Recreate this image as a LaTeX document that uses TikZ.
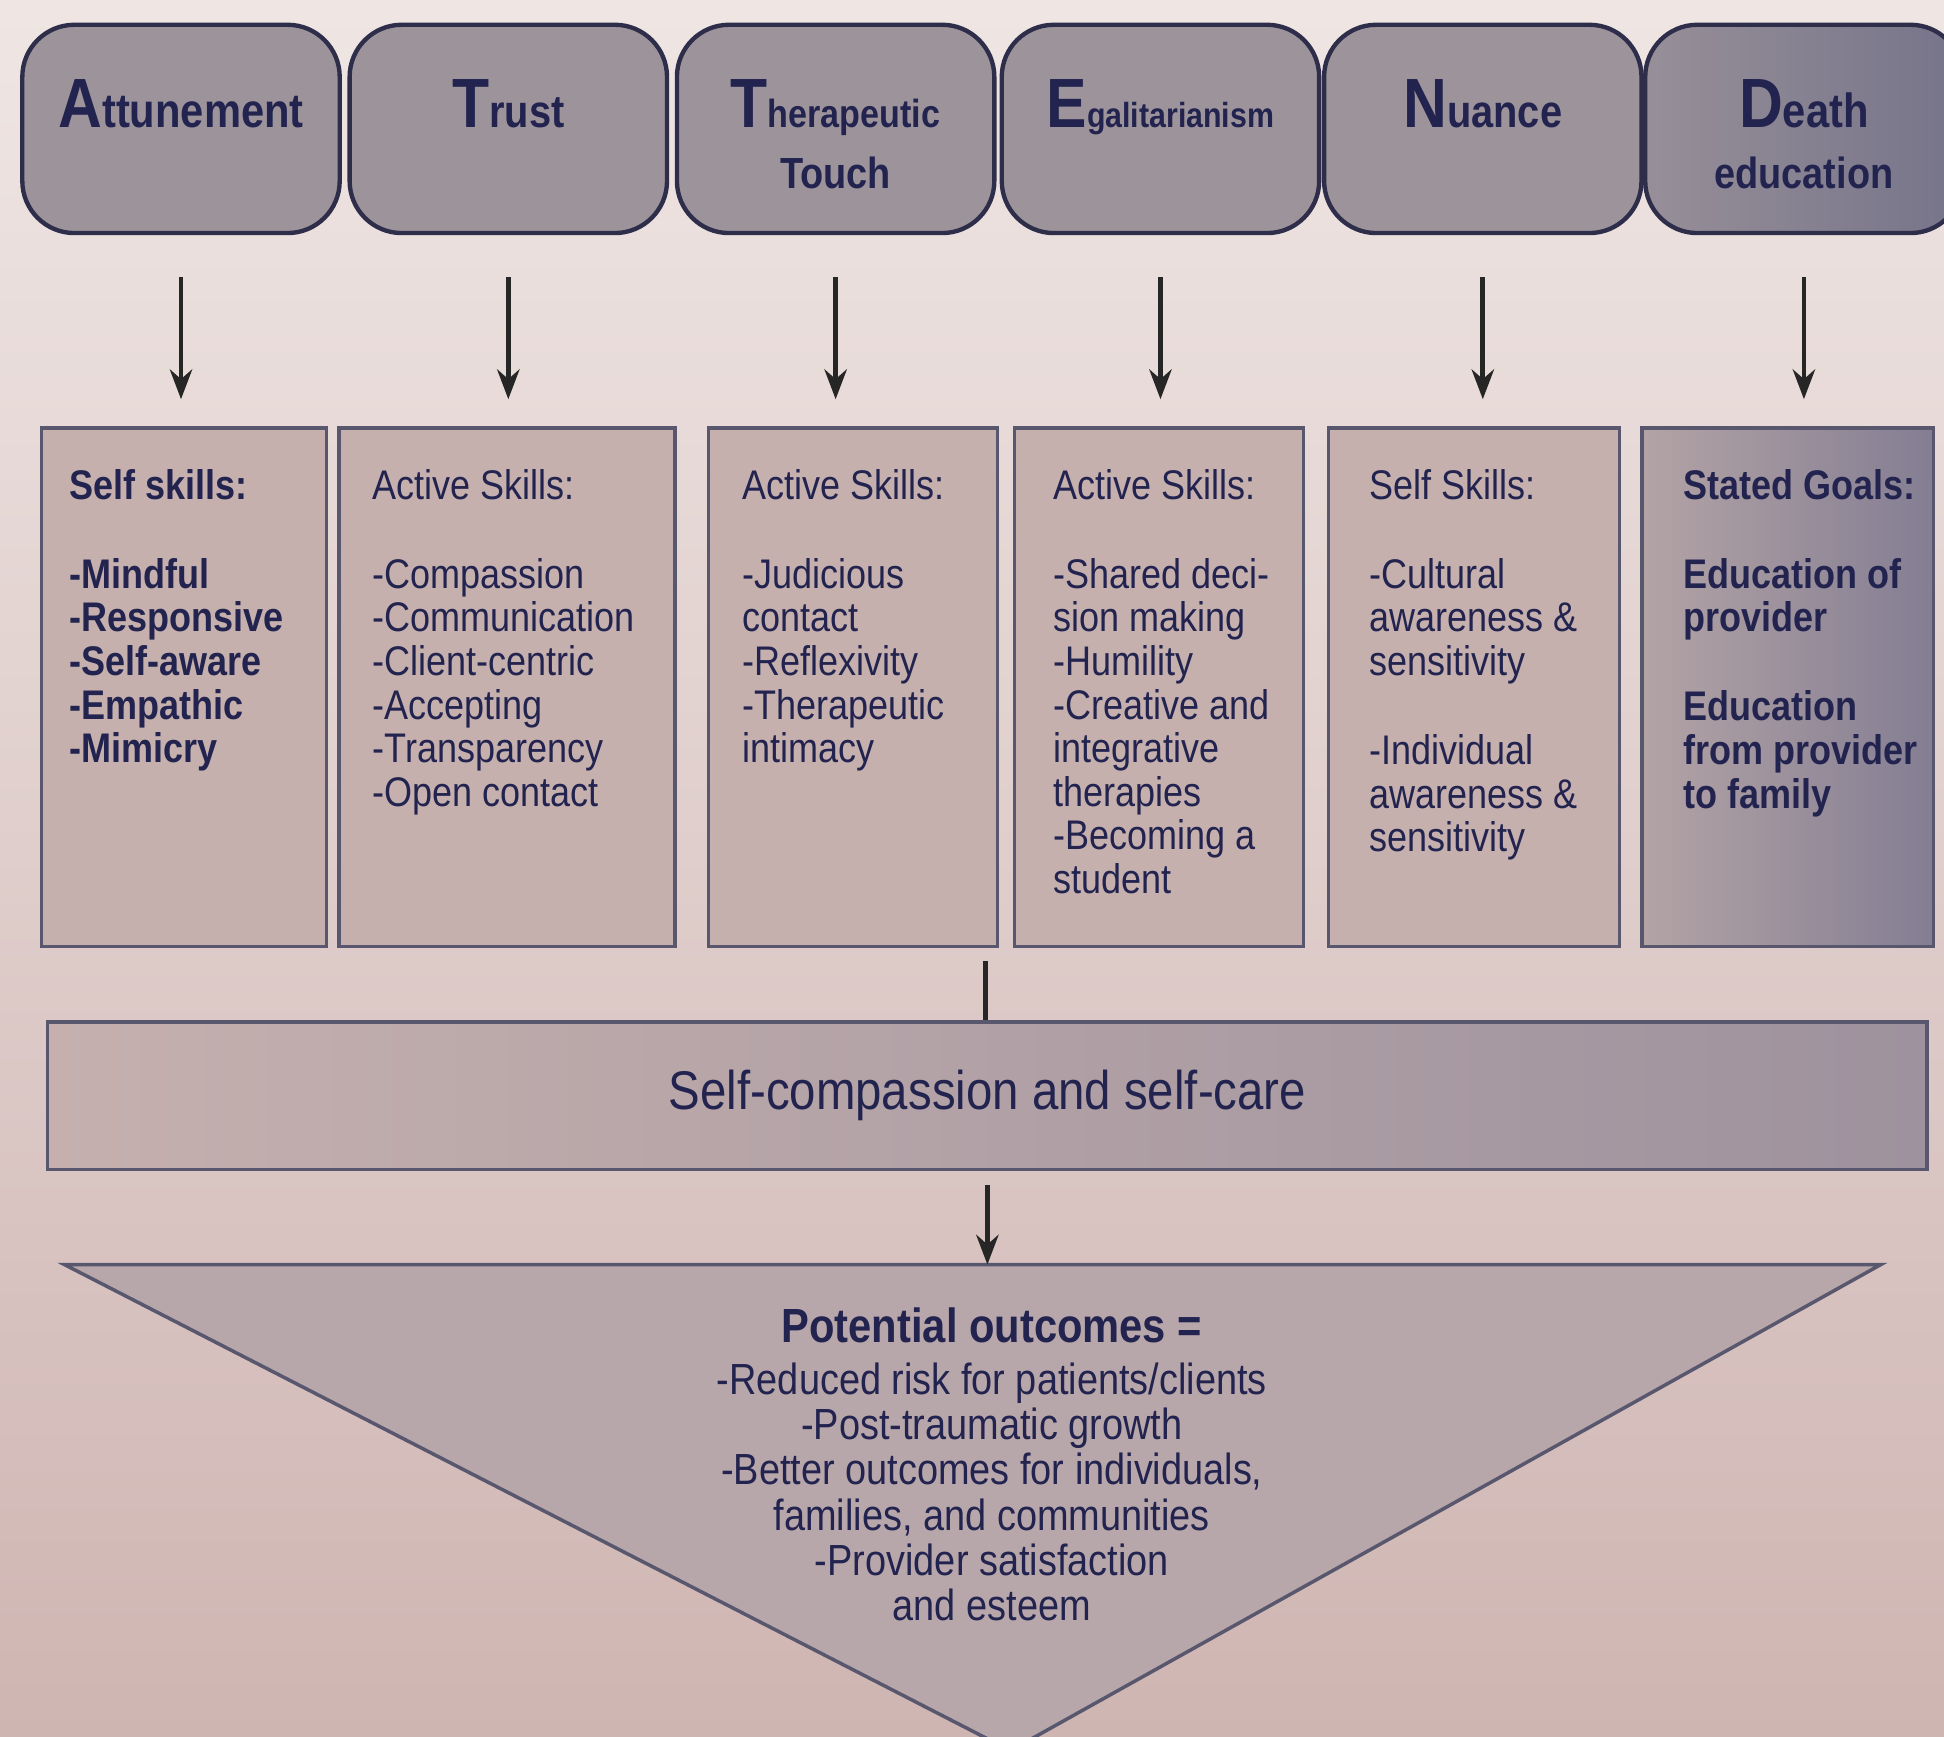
\documentclass[tikz,border=0pt]{standalone}
\usepackage{fontspec}
\setmainfont[FakeStretch=0.87]{Liberation Sans}
\usetikzlibrary{arrows.meta,positioning}

\definecolor{bgtop}{HTML}{EFE6E4}
\definecolor{bgbot}{HTML}{CFB5B2}
\definecolor{headfill}{HTML}{9D949B}
\definecolor{headdark}{HTML}{76748A}
\definecolor{skillfill}{HTML}{C5B0AE}
\definecolor{skilldark}{HTML}{847E93}
\definecolor{trifill}{HTML}{B8A7AA}
\definecolor{navy}{HTML}{22234F}
\definecolor{edge}{HTML}{2E2D4A}

\newcommand{\firstcap}[3][11]{{\fontsize{16}{16}\selectfont #2}{\fontsize{#1}{#1}\selectfont #3}}

\begin{document}
\begin{tikzpicture}[
  headbox/.style={draw=edge,line width=1pt,fill=headfill,rounded corners=0.42cm,
    minimum width=2.56cm,minimum height=1.68cm,inner sep=0pt},
  headtext/.style={anchor=north,inner sep=0pt,align=center,font=\bfseries,text=navy},
  skillbox/.style={draw=edge!80,line width=0.8pt,fill=skillfill,anchor=north west,
    minimum height=4.18cm,inner sep=0pt},
  skilltext/.style={anchor=north west,inner sep=0pt,align=left,text=navy,
    font=\fontsize{9.5}{10}\selectfont},
  down/.style={-{Stealth[length=2.4mm,width=1.8mm]},line width=1.1pt,draw=black!85}
]
\useasboundingbox (0,0) rectangle (15.68,-14.01);
\fill[top color=bgtop,bottom color=bgbot] (0,0) rectangle (15.68,-14.01);

% top row
\foreach \n/\x in {1/1.46,2/4.10,3/6.74,4/9.36,5/11.96}
  \node[headbox] (h\n) at (\x,-1.04) {};
\node[headbox,left color=headfill!85!headdark,right color=headdark] (h6) at (14.55,-1.04) {};

\node[headtext] (t1) at ([yshift=-4.5mm]h1.north) {\firstcap{A}{ttunement}};
\node[headtext] (t2) at ([yshift=-4.5mm]h2.north) {\firstcap[10.5]{T}{rust}};
\node[headtext] (t3) at ([yshift=-4.5mm]h3.north) {\firstcap[9]{T}{herapeutic}\\[2pt]{\fontsize{10}{10}\selectfont Touch}};
\node[headtext] (t4) at ([yshift=-4.5mm]h4.north) {\firstcap[8]{E}{galitarianism}};
\node[headtext] (t5) at ([yshift=-4.5mm]h5.north) {\firstcap[10.5]{N}{uance}};
\node[headtext] (t6) at ([yshift=-4.5mm]h6.north) {\firstcap{D}{eath}\\[2pt]{\fontsize{10}{10}\selectfont education}};

% skill boxes
\foreach \n/\l/\w in {1/0.32/2.30,2/2.72/2.71,3/5.70/2.33,4/8.17/2.33,5/10.70/2.35}
  \node[skillbox,minimum width=\w cm] (s\n) at (\l,-3.44) {};
\node[skillbox,minimum width=2.35cm,left color=skillfill!55!headfill,right color=skilldark] (s6) at (13.23,-3.44) {};

\foreach \n in {1,...,6}
  \draw[down] ([yshift=-3.4mm]h\n.south) -- ([yshift=2.2mm]h\n.south |- s\n.north);

\node[skilltext,font=\fontsize{9.5}{10}\selectfont\bfseries] (k1) at ([xshift=2.3mm,yshift=-3.4mm]s1.north west)
  {Self skills:\\[10.4pt]-Mindful\\-Responsive\\-Self-aware\\-Empathic\\-Mimicry};
\node[skilltext] (k2) at ([xshift=2.8mm,yshift=-3.4mm]s2.north west)
  {Active Skills:\\[10.4pt]-Compassion\\-Communication\\-Client-centric\\-Accepting\\-Transparency\\-Open contact};
\node[skilltext] (k3) at ([xshift=2.8mm,yshift=-3.4mm]s3.north west)
  {Active Skills:\\[10.4pt]-Judicious\\contact\\-Reflexivity\\-Therapeutic\\intimacy};
\node[skilltext] (k4) at ([xshift=3.2mm,yshift=-3.4mm]s4.north west)
  {Active Skills:\\[10.4pt]-Shared deci-\\sion making\\-Humility\\-Creative and\\integrative\\therapies\\-Becoming a\\student};
\node[skilltext] (k5) at ([xshift=3.4mm,yshift=-3.4mm]s5.north west)
  {Self Skills:\\[10.4pt]-Cultural\\awareness \&\\sensitivity\\[10.4pt]-Individual\\awareness \&\\sensitivity};
\node[skilltext,font=\fontsize{9.5}{10}\selectfont\bfseries] (k6) at ([xshift=3.4mm,yshift=-3.4mm]s6.north west)
  {Stated Goals:\\[10.4pt]Education of\\provider\\[10.4pt]Education\\from provider\\to family};

% self-care bar
\node[draw=edge!80,line width=0.8pt,left color=skillfill,right color=skilldark!60!skillfill,
  minimum width=15.16cm,minimum height=1.19cm,anchor=north west,text=navy,
  font=\fontsize{12.5}{13}\selectfont] (sc) at (0.37,-8.23) {Self-compassion and self-care};
\coordinate (join) at (7.95,-7.75);
\draw[line width=1.1pt,draw=black!85] (join) -- (join |- sc.north);

% outcomes
\draw[draw=edge!80,line width=0.8pt,fill=trifill] (0.52,-10.20) -- (15.17,-10.20) -- (8.15,-14.12) -- cycle;
\coordinate (tri) at (7.95,-10.20);
\draw[down] ([yshift=-1.1mm]sc.south) -- (sc.south |- tri);
\node[anchor=north,inner sep=0pt,align=center,text=navy,font=\fontsize{10}{10.4}\selectfont] (out) at (8.0,-10.54)
  {{\fontsize{11}{11}\selectfont\bfseries Potential outcomes =}\\[1.5pt]-Reduced risk for patients/clients\\-Post-traumatic growth\\-Better outcomes for individuals,\\families, and communities\\-Provider satisfaction\\and esteem};
\end{tikzpicture}
\end{document}
